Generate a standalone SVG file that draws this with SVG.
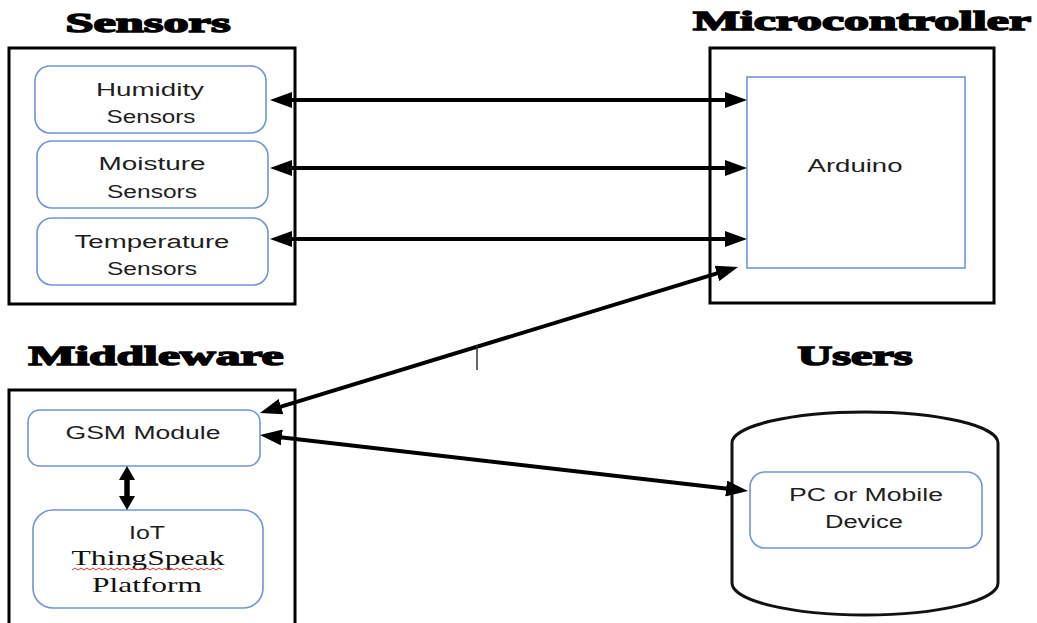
<svg xmlns="http://www.w3.org/2000/svg" width="1037" height="623" viewBox="0 0 1037 623">
<style>
.frame{fill:none;stroke:#000;stroke-width:3}
.node{fill:#fff;stroke:#6f95d6;stroke-width:1.6}
.lbl{font-family:"Liberation Sans",Arial,sans-serif;font-size:18px;fill:#1e1e1e;text-anchor:middle}
.ser{font-family:"Liberation Serif","Times New Roman",serif;font-size:21px;fill:#111;text-anchor:middle}
.title{font-family:"Liberation Serif","Times New Roman",serif;font-weight:bold;font-size:28px;fill:#000;text-anchor:middle;stroke:#000;stroke-width:1.5}
.conn{stroke:#000;stroke-width:4;fill:none}
</style>
<defs>
<marker id="ah" viewBox="0 0 22 16" markerWidth="22" markerHeight="16" refX="6" refY="8" markerUnits="userSpaceOnUse" orient="auto-start-reverse">
<path d="M0,0 L22,8 L0,16 z" fill="#000"/>
</marker>
<marker id="ahs" viewBox="0 0 14 16" markerWidth="14" markerHeight="16" refX="4" refY="8" markerUnits="userSpaceOnUse" orient="auto-start-reverse">
<path d="M0,0 L14,8 L0,16 z" fill="#000"/>
</marker>
</defs>

<g id="sensors">
<text class="title" x="148" y="32" textLength="165" lengthAdjust="spacingAndGlyphs">Sensors</text>
<rect class="frame" x="9" y="48" width="286" height="256"/>
</g>
<g id="humidity">
<rect class="node" x="35" y="66" width="231" height="67" rx="15"/>
<text class="lbl" x="150" y="96" textLength="108" lengthAdjust="spacingAndGlyphs">Humidity</text>
<text class="lbl" x="151" y="123" textLength="89" lengthAdjust="spacingAndGlyphs">Sensors</text>
</g>
<g id="moisture">
<rect class="node" x="37" y="141" width="231" height="67" rx="15"/>
<text class="lbl" x="152" y="170" textLength="107" lengthAdjust="spacingAndGlyphs">Moisture</text>
<text class="lbl" x="152" y="198" textLength="90" lengthAdjust="spacingAndGlyphs">Sensors</text>
</g>
<g id="temperature">
<rect class="node" x="37" y="218" width="231" height="67" rx="15"/>
<text class="lbl" x="152" y="248" textLength="155" lengthAdjust="spacingAndGlyphs">Temperature</text>
<text class="lbl" x="152" y="275" textLength="90" lengthAdjust="spacingAndGlyphs">Sensors</text>
</g>

<g id="microcontroller">
<text class="title" x="862" y="30" textLength="338" lengthAdjust="spacingAndGlyphs">Microcontroller</text>
<rect class="frame" x="710" y="48" width="284" height="255"/>
</g>
<g id="arduino">
<rect class="node" x="747" y="77" width="218" height="191"/>
<text class="lbl" x="855" y="172" textLength="95" lengthAdjust="spacingAndGlyphs">Arduino</text>
</g>

<g id="middleware">
<text class="title" x="156" y="365" textLength="255" lengthAdjust="spacingAndGlyphs">Middleware</text>
<rect class="frame" x="9" y="390" width="286" height="250"/>
</g>
<g id="gsm">
<rect class="node" x="28" y="410" width="232" height="56" rx="12"/>
<text class="lbl" x="143" y="439" textLength="155" lengthAdjust="spacingAndGlyphs">GSM Module</text>
</g>
<g id="iot">
<rect class="node" x="33" y="510" width="230" height="98" rx="20"/>
<text class="lbl" x="147" y="539" textLength="36" lengthAdjust="spacingAndGlyphs">IoT</text>
<text class="ser" x="148" y="565" textLength="153" lengthAdjust="spacingAndGlyphs">ThingSpeak</text>
<path d="M72,570 l3,-2 l3,2 l3,-2 l3,2 l3,-2 l3,2 l3,-2 l3,2 l3,-2 l3,2 l3,-2 l3,2 l3,-2 l3,2 l3,-2 l3,2 l3,-2 l3,2 l3,-2 l3,2 l3,-2 l3,2 l3,-2 l3,2 l3,-2 l3,2 l3,-2 l3,2 l3,-2 l3,2 l3,-2 l3,2 l3,-2 l3,2 l3,-2 l3,2 l3,-2 l3,2 l3,-2 l3,2 l3,-2 l3,2 l3,-2 l3,2 l3,-2 l3,2 l3,-2 l3,2 l3,-2 l3,2" fill="none" stroke="#e0302a" stroke-width="1"/>
<text class="ser" x="147" y="592" textLength="110" lengthAdjust="spacingAndGlyphs">Platform</text>
</g>

<g id="users">
<text class="title" x="855" y="365" textLength="115" lengthAdjust="spacingAndGlyphs">Users</text>
<path d="M732,443 A133,31 0 0 1 998,443 L998,583 A133,32 0 0 1 732,583 Z" fill="#fff" stroke="#111" stroke-width="3"/>
</g>
<g id="pc">
<rect class="node" x="750" y="472" width="232" height="76" rx="15"/>
<text class="lbl" x="866" y="501" textLength="154" lengthAdjust="spacingAndGlyphs">PC or Mobile</text>
<text class="lbl" x="864" y="528" textLength="78" lengthAdjust="spacingAndGlyphs">Device</text>
</g>

<g id="connectors">
<line class="conn" x1="286" y1="100" x2="731" y2="100" marker-start="url(#ah)" marker-end="url(#ah)"/>
<line class="conn" x1="286" y1="168" x2="731" y2="168" marker-start="url(#ah)" marker-end="url(#ah)"/>
<line class="conn" x1="286" y1="239" x2="731" y2="239" marker-start="url(#ah)" marker-end="url(#ah)"/>
<line class="conn" x1="275.3" y1="408.3" x2="722.7" y2="271.7" marker-start="url(#ah)" marker-end="url(#ah)"/>
<line class="conn" x1="275.9" y1="436.8" x2="732.1" y2="489.2" marker-start="url(#ah)" marker-end="url(#ah)"/>
<line x1="127" y1="476" x2="127" y2="500" stroke="#000" stroke-width="5.5" marker-start="url(#ahs)" marker-end="url(#ahs)"/>
<line x1="477" y1="345" x2="477" y2="370" stroke="#333" stroke-width="1.5"/>
</g>
</svg>
